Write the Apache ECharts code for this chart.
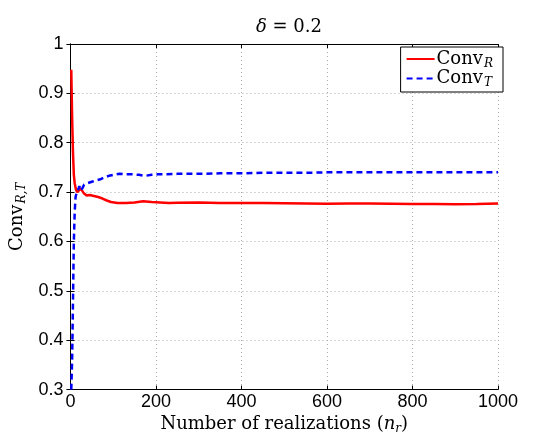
<!DOCTYPE html>
<html><head><meta charset="utf-8">
<script src="https://cdn.jsdelivr.net/npm/echarts@6/dist/echarts.min.js"></script>
<style>html,body{margin:0;padding:0;background:#fff}#c{width:533px;height:440px}</style>
</head><body><div id="c"></div>
<script>
// realization counts and values
const convR_n = [2,4,6,8,10,13,16,20,24,28,32,38,45,55,65,75,85,95,110,130,150,170,190,210,230,250,300,350,400,450,500,550,600,650,700,750,800,850,900,950,1000];
const convR_v = [0.948,0.85,0.78,0.735,0.718,0.705,0.700,0.703,0.707,0.703,0.697,0.693,0.694,0.692,0.690,0.687,0.683,0.680,0.678,0.678,0.679,0.6815,0.680,0.679,0.678,0.6785,0.679,0.678,0.678,0.678,0.6775,0.677,0.6765,0.6768,0.677,0.6765,0.676,0.676,0.6755,0.676,0.677];
const convT_n = [2,4,6,8,10,12,15,18,21,24,28,32,40,50,60,70,80,90,100,115,130,145,160,175,190,205,220,250,300,350,400,450,500,550,600,650,700,750,800,850,900,950,1000];
const convT_v = [0.30,0.36,0.48,0.60,0.66,0.69,0.700,0.705,0.712,0.703,0.708,0.715,0.718,0.721,0.724,0.726,0.730,0.733,0.735,0.737,0.736,0.736,0.735,0.733,0.735,0.736,0.736,0.737,0.737,0.738,0.738,0.739,0.739,0.739,0.740,0.740,0.740,0.740,0.740,0.740,0.740,0.740,0.740];
const xTicks = [0,200,400,600,800,1000];
const yTicks = [0.3,0.4,0.5,0.6,0.7,0.8,0.9,1];
const seriesNames = ['Conv_R','Conv_T'];

const serif = 'DejaVu Serif';
const sans = 'Liberation Sans';
const zip = (a,b)=>a.map((x,i)=>[x,b[i]]);
const sub = {
  m:{fontFamily:serif,fontSize:18,color:'#000'},
  s:{fontFamily:serif,fontSize:12,fontStyle:'italic',color:'#000',padding:[9,0,0,1]}
};
const chart = echarts.init(document.getElementById('c'),null,{renderer:'canvas'});
const axisCommon = {
  axisLine:{show:true,lineStyle:{color:'#000',width:1}},
  axisTick:{show:true,inside:true,length:4,lineStyle:{color:'#000'}},
};
chart.setOption({
  animation:false,
  backgroundColor:'#fff',
  title:{
    text:'{i|δ} = 0.2',left:284,top:13,textAlign:'center',
    textStyle:{fontFamily:serif,fontSize:18,fontWeight:'normal',color:'#000',
      rich:{i:{fontFamily:serif,fontSize:18,fontStyle:'italic',color:'#000'}}}
  },
  grid:{left:70,top:44,right:35,bottom:48,containLabel:false},
  legend:{
    right:30,top:47,orient:'vertical',
    backgroundColor:'#fff',borderColor:'#000',borderWidth:1,
    padding:[3,10,3,5],itemGap:0,itemWidth:28,itemHeight:14,
    itemStyle:{opacity:0},
    data:seriesNames,
    formatter:n=>n==='Conv_R'?'{m|Conv}{s|R}':'{m|Conv}{s|T}',
    textStyle:{rich:sub,padding:[0,0,0,-3]}
  },
  xAxis:[
    Object.assign({type:'value',min:xTicks[0],max:xTicks[xTicks.length-1],interval:200,position:'bottom',
      name:'Number of realizations ({i|n}{s|r})',nameLocation:'middle',nameGap:23,
      nameTextStyle:{fontFamily:serif,fontSize:18,color:'#000',
        rich:{i:{fontFamily:serif,fontSize:18,fontStyle:'italic',color:'#000'},
              s:{fontFamily:serif,fontSize:12,fontStyle:'italic',color:'#000',padding:[9,0,0,0]}}},
      axisLabel:{fontFamily:sans,fontSize:18,color:'#000',margin:3,formatter:v=>String(v)},
      splitLine:{show:true,lineStyle:{color:'#aaa',type:[1,3],width:1}}},axisCommon),
    Object.assign({type:'value',min:0,max:1000,interval:200,position:'top',
      axisLabel:{show:false},splitLine:{show:false}},axisCommon)
  ],
  yAxis:[
    Object.assign({type:'value',min:yTicks[0],max:yTicks[yTicks.length-1],interval:0.1,position:'left',
      name:'{m|Conv}{s|R,T}',nameLocation:'middle',nameGap:40,nameRotate:90,
      nameTextStyle:{rich:sub},
      axisLabel:{fontFamily:sans,fontSize:18,color:'#000',margin:7,formatter:v=>String(+v.toFixed(1))},
      splitLine:{show:true,lineStyle:{color:'#aaa',type:[1,3],width:1}}},axisCommon),
    Object.assign({type:'value',min:0.3,max:1,interval:0.1,position:'right',
      axisLabel:{show:false},splitLine:{show:false}},axisCommon)
  ],
  series:[
    {name:seriesNames[0],type:'line',data:zip(convR_n,convR_v),symbol:'none',
      lineStyle:{color:'#ff0000',width:2.5},itemStyle:{color:'#ff0000'}},
    {name:seriesNames[1],type:'line',data:zip(convT_n,convT_v),symbol:'none',
      lineStyle:{color:'#0000ff',width:2.5,type:[6,4]},itemStyle:{color:'#0000ff'}}
  ]
});
</script></body></html>
